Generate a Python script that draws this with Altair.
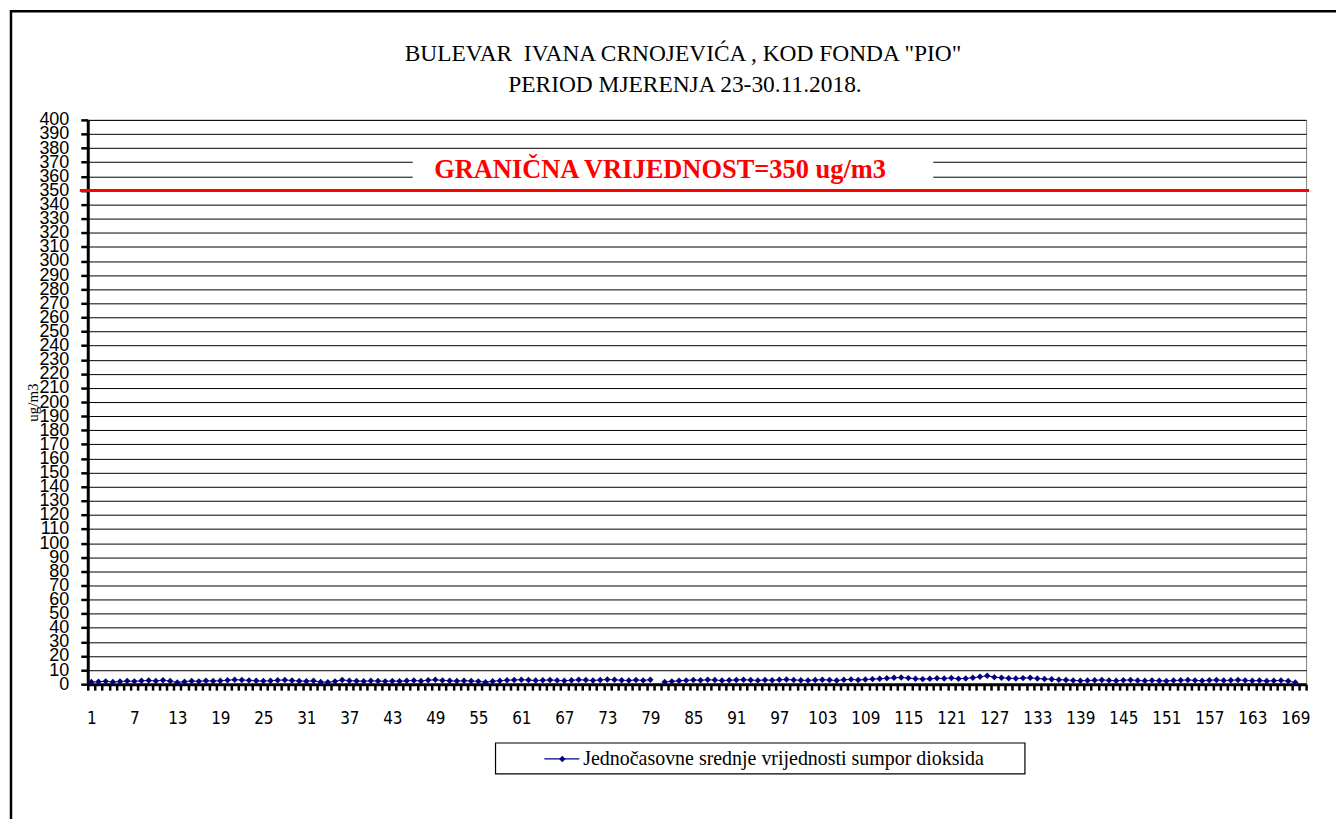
import altair as alt
import pandas as pd

# ---------------- data ----------------
hours = list(range(1, 170))
so2 = [
    1.5, 1.8, 2.0, 1.6, 1.9, 2.2, 2.0, 2.4, 2.6, 2.3,
    2.8, 2.2, 1.2, 1.8, 2.3, 2.0, 2.4, 2.2, 2.5, 2.8,
    3.2, 3.0, 2.7, 2.4, 2.2, 2.5, 2.8, 3.0, 2.6, 2.3,
    2.1, 2.4, 1.6, 1.3, 2.0, 3.0, 2.5, 2.3, 2.1, 2.4,
    2.2, 2.0, 2.3, 2.1, 2.4, 2.6, 2.3, 2.8, 3.1, 2.7,
    2.4, 2.2, 2.5, 2.3, 2.0, 1.4, 2.1, 2.5, 2.8, 3.0,
    3.2, 2.9, 2.6, 2.8, 3.0, 2.7, 2.5, 2.8, 3.1, 2.9,
    2.6, 3.0, 3.3, 3.1, 2.8, 2.6, 3.0, 2.7, 3.2, None,
    1.6, 2.0, 2.4, 2.7, 3.0, 2.8, 3.1, 2.9, 2.6, 2.8,
    3.0, 3.2, 2.9, 2.7, 3.0, 2.8, 3.1, 3.3, 3.0, 2.8,
    2.7, 3.0, 3.2, 2.9, 2.6, 3.1, 3.4, 3.0, 3.3, 3.6,
    3.8, 4.2, 4.5, 4.8, 4.3, 3.9, 3.6, 3.8, 4.2, 4.0,
    4.4, 3.9, 4.1, 4.6, 5.2, 6.0, 5.0, 4.6, 4.2, 4.0,
    4.3, 4.5, 4.0, 3.7, 3.5, 3.2, 3.0, 2.7, 2.5, 2.6,
    2.8, 3.0, 2.7, 2.5, 2.8, 3.0, 2.6, 2.4, 2.7, 2.5,
    2.3, 2.6, 2.8, 3.0, 2.7, 2.5, 2.8, 3.0, 2.6, 2.8,
    3.0, 2.7, 2.5, 2.6, 2.3, 2.5, 2.7, 2.2, 1.2,
]
x_categories = list(range(1, 171))
y_ticks = list(range(0, 401, 10))
limit_value = 350
title_line1 = 'BULEVAR\u00a0 IVANA CRNOJEVIĆA , KOD FONDA "PIO"'
title_line2 = "PERIOD MJERENJA 23-30.11.2018."
limit_label = "GRANIČNA VRIJEDNOST=350 ug/m3"
series_label = "Jednočasovne srednje vrijednosti sumpor dioksida"
y_title = "ug/m3"

# ---------------- layout ----------------
W, H = 1222, 566
NAVY = "#000080"
RED = "#ff0000"
SERIF = "Liberation Serif, Times New Roman, serif"

df = pd.DataFrame({"h": hours, "v": so2})

xscale = alt.Scale(type="band", domain=x_categories, paddingInner=0, paddingOuter=0)
yscale = alt.Scale(domain=[0, 400], nice=False, zero=True)

x_axis = alt.Axis(
    title=None,
    tickBand="extent",
    labelExpr="(datum.value - 1) % 6 == 0 ? datum.label : ''",
    labelAngle=0,
    labelOverlap=False,
    labelFont="Liberation Sans Narrow, DejaVu Sans Condensed, Liberation Sans, sans-serif",
    labelFontSize=17,
    labelColor="black",
    labelPadding=20,
    tickSize=6,
    tickWidth=2.5,
    tickColor="black",
    domainColor="black",
    domainWidth=3,
    grid=False,
)

y_axis = alt.Axis(
    values=y_ticks,
    tickCount=41,
    title=y_title,
    titleFont=SERIF,
    titleFontSize=15,
    titleFontWeight="normal",
    titleColor="black",
    titleX=-55,
    titleY=H / 2,
    titleAngle=270,
    titleBaseline="middle",
    labelFont="Liberation Sans",
    labelFontSize=18,
    labelColor="black",
    labelOverlap=False,
    labelPadding=12,
    tickSize=7,
    tickWidth=2.5,
    tickColor="black",
    domainColor="black",
    domainWidth=3,
    grid=True,
    gridColor="black",
    gridWidth=1,
)

base = alt.Chart(df)

line = base.mark_line(color=NAVY, strokeWidth=1).encode(
    x=alt.X("h:O", scale=xscale, axis=x_axis),
    y=alt.Y("v:Q", scale=yscale, axis=y_axis),
)
points = base.mark_point(shape="diamond", filled=True, color=NAVY, size=42, opacity=1).encode(
    x=alt.X("h:O", scale=xscale, axis=x_axis),
    y=alt.Y("v:Q", scale=yscale, axis=y_axis),
)

one = alt.Chart(pd.DataFrame({"k": [0]}))

# white box behind the limit label
label_box = one.mark_rect(color="white").encode(
    x=alt.value(326), x2=alt.value(848),
    y=alt.YDatum(355.5, scale=yscale, axis=y_axis),
    y2=alt.Y2Datum(376.0),
)
limit_rule = one.mark_rule(color=RED, strokeWidth=3).encode(
    y=alt.YDatum(limit_value, scale=yscale, axis=y_axis),
    x=alt.value(-8), x2=alt.value(W + 3),
)
limit_text = one.mark_text(
    font=SERIF, fontSize=26.5, fontWeight="bold", color=RED,
    align="center", baseline="middle",
).encode(
    x=alt.value(574),
    y=alt.YDatum(364.5, scale=yscale, axis=y_axis),
    text=alt.value(limit_label),
)

# chart title (two centred lines)
title1 = one.mark_text(
    font=SERIF, fontSize=23.5, color="black", align="center", baseline="middle",
).encode(x=alt.value(597), y=alt.value(-66), text=alt.value(title_line1))
title2 = one.mark_text(
    font=SERIF, fontSize=23.5, color="black", align="center", baseline="middle",
).encode(x=alt.value(599), y=alt.value(-35), text=alt.value(title_line2))

# legend
leg_box = one.mark_rect(fill="white", stroke="black", strokeWidth=1.2).encode(
    x=alt.value(409), x2=alt.value(940), y=alt.value(625), y2=alt.value(656),
)
leg_line = one.mark_rule(color=NAVY, strokeWidth=1.2).encode(
    x=alt.value(458), x2=alt.value(493), y=alt.value(641),
)
leg_pt = one.mark_point(shape="diamond", filled=True, color=NAVY, size=42, opacity=1).encode(
    x=alt.value(476), y=alt.value(641),
)
leg_text = one.mark_text(
    font=SERIF, fontSize=20, color="black", align="left", baseline="middle",
).encode(x=alt.value(497), y=alt.value(641), text=alt.value(series_label))

# outer frame (top and left visible)
frame = one.mark_rect(fill=None, stroke="black", strokeWidth=2.5).encode(
    x=alt.value(-77), x2=alt.value(W + 60), y=alt.value(-109), y2=alt.value(H + 200),
)

chart = alt.layer(
    frame, line, points, label_box, limit_rule, limit_text,
    title1, title2, leg_box, leg_line, leg_pt, leg_text,
).properties(
    width=W,
    height=H,
    padding={"left": 80, "top": 111, "right": 30, "bottom": 134},
    autosize=alt.AutoSizeParams(type="none"),
    background="white",
).configure_view(stroke="#808080", strokeWidth=1)

chart.save("out.html", embed_options={"renderer": "svg", "actions": False})
